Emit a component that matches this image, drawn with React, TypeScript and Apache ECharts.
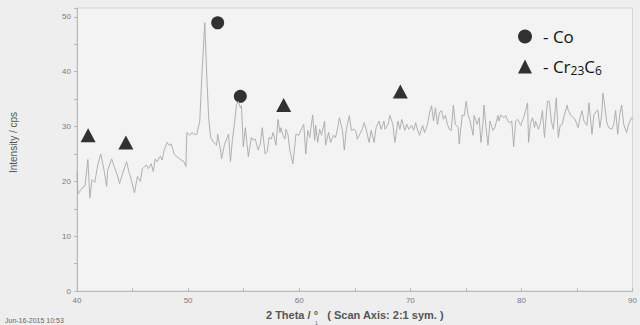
import React, { useEffect, useRef } from "react";
import * as echarts from "echarts";

const twoTheta: number[] = [
  40.0, 40.09, 40.45, 40.71, 40.98, 41.16, 41.34, 41.6, 41.87, 42.14, 42.41, 42.67, 42.76, 43.12, 43.3, 43.65,
  43.83, 44.1, 44.46, 44.72, 44.9, 45.17, 45.44, 45.7, 45.88, 46.24, 46.42, 46.68, 46.86, 47.04, 47.22, 47.49,
  47.66, 47.84, 48.11, 48.29, 48.47, 48.65, 48.73, 49.0, 49.36, 49.63, 49.8, 49.89, 50.16, 50.34, 50.52, 50.78,
  51.05, 51.23, 51.5, 51.68, 51.85, 52.03, 52.3, 52.57, 52.66, 52.92, 53.01, 53.28, 53.46, 53.64, 53.81, 53.99,
  54.17, 54.35, 54.53, 54.71, 54.8, 54.97, 55.15, 55.42, 55.69, 55.86, 56.04, 56.31, 56.49, 56.67, 56.93, 57.11,
  57.29, 57.47, 57.65, 57.91, 58.09, 58.27, 58.36, 58.54, 58.72, 58.81, 58.98, 59.16, 59.43, 59.61, 59.7, 59.96,
  60.14, 60.41, 60.59, 60.77, 60.95, 61.21, 61.39, 61.48, 61.66, 61.84, 62.01, 62.28, 62.37, 62.64, 62.82, 63.08,
  63.26, 63.44, 63.62, 63.89, 64.06, 64.24, 64.51, 64.69, 64.96, 65.13, 65.22, 65.4, 65.67, 65.85, 66.02, 66.29,
  66.47, 66.74, 66.92, 67.18, 67.36, 67.63, 67.72, 67.99, 68.16, 68.43, 68.61, 68.88, 69.06, 69.23, 69.5, 69.68,
  69.86, 70.12, 70.3, 70.48, 70.66, 70.84, 71.11, 71.28, 71.55, 71.73, 71.91, 72.09, 72.26, 72.44, 72.62, 72.8,
  72.98, 73.16, 73.33, 73.51, 73.69, 73.87, 74.05, 74.31, 74.4, 74.67, 74.85, 75.03, 75.2, 75.38, 75.65, 75.74,
  76.01, 76.19, 76.36, 76.54, 76.63, 76.81, 76.99, 77.17, 77.43, 77.61, 77.88, 77.97, 78.15, 78.41, 78.59, 78.77,
  78.95, 79.13, 79.3, 79.48, 79.66, 79.93, 80.2, 80.37, 80.55, 80.64, 80.82, 81.0, 81.18, 81.27, 81.53, 81.71,
  81.89, 82.07, 82.34, 82.51, 82.69, 82.87, 83.14, 83.32, 83.49, 83.67, 83.85, 84.12, 84.21, 84.47, 84.65, 84.83,
  85.1, 85.28, 85.45, 85.63, 85.9, 86.08, 86.35, 86.52, 86.79, 86.88, 87.06, 87.24, 87.33, 87.5, 87.68, 87.86,
  88.13, 88.31, 88.48, 88.66, 88.84, 89.02, 89.2, 89.47, 89.64, 89.91, 90.0,
];

const intensity: number[] = [
  21.8, 17.7, 18.8, 19.1, 24.0, 17.0, 20.3, 19.8, 23.0, 25.0, 22.3, 19.1, 22.0, 24.1, 23.0, 21.0,
  19.6, 21.4, 23.6, 21.4, 20.2, 17.9, 20.9, 20.0, 22.3, 23.0, 22.3, 23.2, 21.8, 24.1, 23.6, 24.6,
  23.9, 25.7, 27.1, 26.6, 26.8, 25.7, 25.0, 24.5, 23.9, 23.6, 22.7, 28.9, 28.4, 28.9, 28.6, 28.6,
  31.0, 38.8, 48.9, 39.3, 31.6, 28.0, 27.1, 26.6, 28.6, 25.7, 24.1, 26.8, 27.7, 28.6, 23.6, 27.7,
  30.4, 33.9, 34.6, 33.4, 33.8, 26.3, 29.8, 24.5, 28.0, 27.5, 27.7, 25.7, 26.8, 29.8, 25.0, 25.4,
  28.0, 27.7, 28.9, 26.6, 31.3, 28.9, 29.8, 28.4, 27.7, 29.5, 28.6, 25.7, 23.2, 26.6, 28.6, 28.4,
  29.3, 30.4, 25.0, 29.3, 28.0, 32.1, 27.5, 30.2, 27.1, 29.5, 28.4, 31.0, 26.6, 28.9, 27.1, 28.4,
  28.0, 29.5, 31.6, 29.3, 25.7, 29.5, 32.0, 29.3, 29.5, 28.9, 27.7, 28.4, 29.5, 30.7, 29.5, 27.1,
  29.3, 27.1, 29.8, 31.0, 29.5, 31.0, 29.5, 30.4, 32.0, 30.4, 27.1, 31.0, 29.5, 31.3, 29.3, 30.4,
  29.5, 30.2, 29.3, 30.7, 29.3, 28.4, 30.2, 28.9, 30.4, 32.5, 33.8, 31.0, 33.4, 30.4, 32.5, 32.9,
  31.3, 32.1, 30.4, 29.5, 29.3, 33.9, 30.4, 29.8, 26.8, 32.1, 32.0, 34.6, 32.1, 31.0, 28.4, 32.0,
  30.4, 31.6, 27.1, 30.7, 33.9, 29.8, 26.6, 31.0, 29.3, 29.8, 32.0, 31.0, 32.1, 31.6, 32.0, 31.0,
  30.7, 31.0, 26.3, 31.0, 31.3, 30.2, 31.6, 32.9, 34.3, 27.1, 30.7, 31.6, 29.8, 31.0, 29.5, 30.7,
  32.9, 28.0, 34.6, 34.6, 31.0, 29.5, 35.2, 28.0, 30.2, 30.4, 32.0, 33.9, 32.9, 32.0, 31.6, 31.3,
  29.8, 31.6, 32.9, 31.0, 30.2, 34.3, 28.6, 32.1, 32.9, 33.0, 29.8, 32.5, 36.1, 33.8, 30.7, 29.8,
  29.5, 30.4, 32.9, 28.6, 32.1, 33.9, 30.4, 28.9, 30.4, 31.6, 31.3,
];

const coPeaksX: number[] = [52.66, 54.7];
const coPeaksY: number[] = [48.9, 35.5];
const crPeaksX: number[] = [41.0, 44.4, 58.6, 69.1];
const crPeaksY: number[] = [28.4, 27.1, 33.9, 36.4];

const xTicks = { min: 40, max: 90, interval: 10 };
const yTicks = { min: 0, max: 51.6, interval: 10 };

export default function App() {
  const ref = useRef<HTMLDivElement>(null);
  useEffect(() => {
    if (!ref.current) return;
    const chart = echarts.init(ref.current, undefined, { renderer: "svg" });
    const lineData = twoTheta.map((x, i) => [x, intensity[i]]);
    const coData = coPeaksX.map((x, i) => [x, coPeaksY[i]]);
    const crData = crPeaksX.map((x, i) => [x, crPeaksY[i]]);
    const axisColor = "#b8b8b8";
    const labelColor = "#7a7a7a";
    chart.setOption({
      animation: false,
      backgroundColor: "#eeeeee",
      grid: {
        left: 77,
        right: 2,
        top: 8,
        bottom: 28,
        show: true,
        backgroundColor: "#f3f3f3",
        borderColor: "#d6d6d6",
        borderWidth: 1,
      },
      legend: {
        orient: "vertical",
        left: 513,
        top: 23,
        itemWidth: 14,
        itemHeight: 14,
        itemGap: 13,
        selectedMode: false,
        data: [
          { name: "Co", icon: "circle" },
          { name: "Cr23C6", icon: "triangle" },
        ],
        formatter: (name: string) =>
          name === "Co" ? "- Co" : "- Cr{sub|23}C{sub|6}",
        textStyle: {
          fontFamily: "Open Sans",
          fontSize: 17,
          color: "#111",
          padding: [0, 0, 0, 6],
          rich: {
            sub: {
              fontFamily: "Open Sans",
              fontSize: 12,
              color: "#111",
              verticalAlign: "bottom",
              padding: [8, 0, 0, 0],
            },
          },
        },
      },
      xAxis: {
        type: "value",
        min: xTicks.min,
        max: xTicks.max,
        interval: xTicks.interval,
        name: "2 Theta / °   ( Scan Axis: 2:1 sym. )",
        nameLocation: "middle",
        nameGap: 14,
        nameTextStyle: {
          fontFamily: "Liberation Sans",
          fontSize: 11,
          fontWeight: "bold",
          color: "#555",
        },
        axisLine: { show: true, lineStyle: { color: axisColor, width: 1 } },
        axisTick: { show: true, inside: true, length: 3, lineStyle: { color: axisColor } },
        minorTick: { show: true, splitNumber: 2, length: 3, lineStyle: { color: axisColor } },
        axisLabel: {
          fontFamily: "Liberation Sans",
          fontSize: 8,
          color: labelColor,
          margin: 5,
        },
        splitLine: { show: false },
      },
      yAxis: {
        type: "value",
        min: yTicks.min,
        max: yTicks.max,
        interval: yTicks.interval,
        name: "Intensity / cps",
        nameLocation: "middle",
        nameGap: 59,
        nameTextStyle: {
          fontFamily: "Liberation Sans",
          fontSize: 10,
          color: "#555",
          padding: [0, 0, 0, 14],
        },
        axisLine: { show: true, lineStyle: { color: axisColor, width: 1 } },
        axisTick: { show: true, length: 3, lineStyle: { color: axisColor } },
        minorTick: { show: true, splitNumber: 2, length: 3, lineStyle: { color: axisColor } },
        axisLabel: {
          fontFamily: "Liberation Sans",
          fontSize: 8,
          color: labelColor,
          margin: 6,
          showMaxLabel: false,
        },
        splitLine: { show: false },
      },
      series: [
        {
          name: "pattern",
          type: "line",
          data: lineData,
          showSymbol: false,
          lineStyle: { color: "#a8a8a8", width: 0.9 },
          silent: true,
        },
        {
          name: "Co",
          type: "scatter",
          data: coData,
          symbol: "circle",
          symbolSize: 13,
          itemStyle: { color: "#000" },
        },
        {
          name: "Cr23C6",
          type: "scatter",
          data: crData,
          symbol: "triangle",
          symbolSize: [15, 14],
          itemStyle: { color: "#000" },
        },
      ],
      graphic: [
        {
          type: "text",
          left: 5,
          top: 317,
          style: {
            text: "Jun-16-2015 10:53",
            fontFamily: "Liberation Sans",
            fontSize: 7,
            fill: "#666",
          },
        },
        {
          type: "text",
          left: 315,
          top: 320,
          style: {
            text: "1",
            fontFamily: "Liberation Sans",
            fontSize: 5,
            fill: "#666",
          },
        },
      ],
    });
    return () => chart.dispose();
  }, []);
  return (
    <div
      ref={ref}
      style={{ position: "fixed", left: 0, top: 0, width: 640, height: 325 }}
    />
  );
}
